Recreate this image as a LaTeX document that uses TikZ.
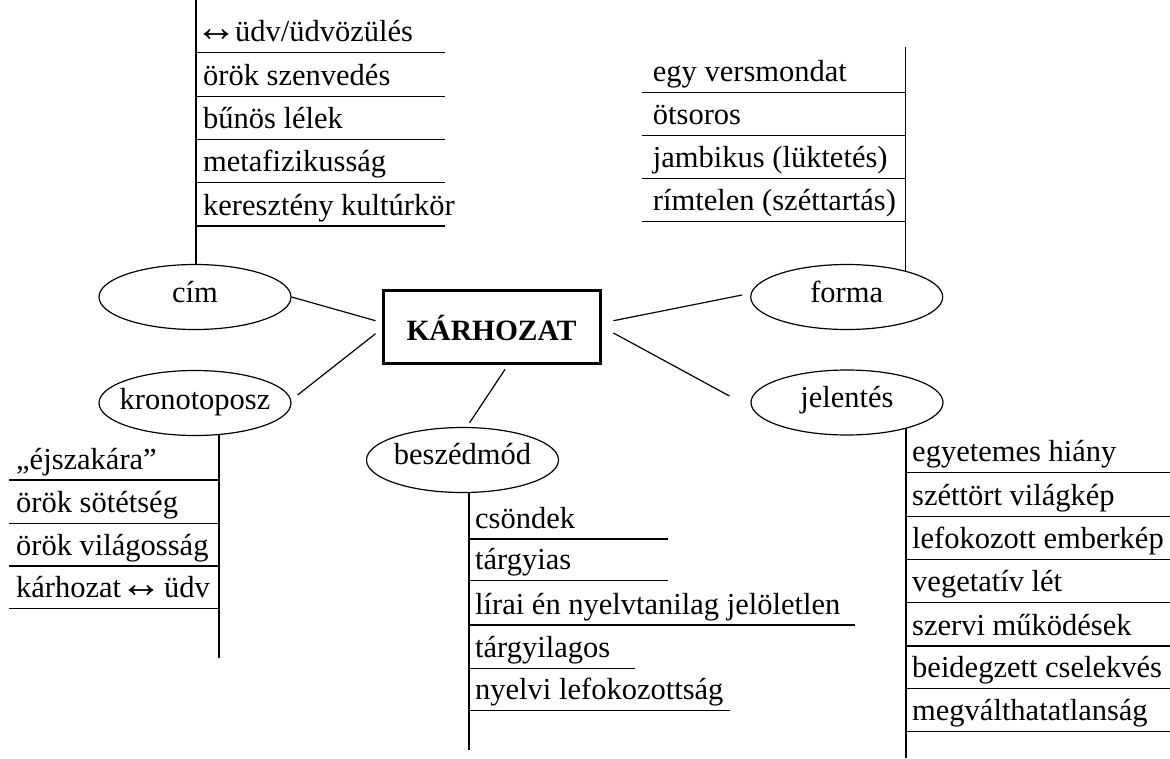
\documentclass[tikz,border=0pt]{standalone}
\usepackage{fontspec}
\setmainfont{Liberation Serif}
\usetikzlibrary{shapes.geometric,calc}
\pgfdeclarelayer{bg}
\pgfsetlayers{bg,main}
\newcommand\itemsize{\fontsize{30.5}{36}\selectfont}
% a large double arrow with its side bearings trimmed
\newcommand\arr{{\fontsize{42}{42}\selectfont\kern-10pt↔\kern-8pt}}

\begin{document}
\begin{tikzpicture}[x=1pt,y=-1pt,
  rule/.style={line width=1.2pt},
  link/.style={line width=1.2pt},
  bubble/.style={ellipse, draw, fill=white, line width=1.2pt,
    minimum width=192pt, minimum height=65pt, inner sep=0pt},
  bubbletext/.style={anchor=base, inner sep=0pt, font=\itemsize},
  mainbox/.style={draw, line width=3pt, fill=white,
    minimum width=217pt, minimum height=73.3pt, inner sep=0pt},
  titletext/.style={anchor=base, inner sep=0pt, font=\fontsize{29.5}{34}\selectfont\bfseries},
  item/.style={anchor=base west, inner sep=0pt, font=\itemsize}]
\useasboundingbox (0,0) rectangle (1170,758);

% central box
\node[mainbox] (box) at (491.5,326.7) {};
\node[titletext] (box-t) at (491.5,340) {KÁRHOZAT};

% topic bubbles
\node[bubble] (cim) at (195,297) {};
\node[bubble] (kron) at (195,403) {};
\node[bubble] (besz) at (462.5,460) {};
\node[bubble] (forma) at (846.7,297) {};
\node[bubble] (jel) at (847,402.5) {};
\node[bubbletext] (cim-t) at ($(cim.center)+(0,5)$) {cím};
\node[bubbletext] (kron-t) at ($(kron.center)+(0,6)$) {kronotoposz};
\node[bubbletext] (besz-t) at ($(besz.center)+(0,4)$) {beszédmód};
\node[bubbletext] (forma-t) at ($(forma.center)+(0,5)$) {forma};
\node[bubbletext] (jel-t) at ($(jel.center)+(0,5)$) {jelentés};

% spokes from the centre
\draw[link] (cim.east) -- ($(box.west)+(-6,-6)$);
\draw[link] ($(kron.east)+(6,-8)$) -- ($(box.west)+(-6,7)$);
\draw[link] ($(box.south)+(13.5,4.5)$) -- ($(besz.north)+(7,-4)$);
\draw[link] ($(box.east)+(12,-6)$) -- ($(forma.west)+(-8,-2)$);
\draw[link] ($(box.east)+(12,6.3)$) -- ($(jel.west)+(-21,-6.5)$);

% spines (behind the bubbles)
\coordinate (cim-end) at (196,0);
\coordinate (forma-end) at (905.7,47);
\coordinate (kron-end) at (219,658);
\coordinate (besz-end) at (469,750);
\coordinate (jel-end) at (906,758);
\begin{pgfonlayer}{bg}
  \draw[rule] (cim-end) -- (cim-end |- cim.center);
  \draw[rule] (forma-end) -- (forma-end |- forma.center);
  \draw[rule] (kron-end) -- (kron-end |- kron.center);
  \draw[rule] (besz-end) -- (besz-end |- besz.center);
  \draw[rule] (jel-end) -- (jel-end |- jel.center);
\end{pgfonlayer}

% cím list
\foreach \y/\t [count=\i] in {52.7/{\kern2pt\arr\kern6pt üdv/üdvözülés}, 96.7/örök szenvedés,
    139.3/bűnös lélek, 182.7/metafizikusság, 226/keresztény kultúrkör}{
  \node[item] (cim-\i) at (203,\y-11) {\t};
  \draw[rule] (196,\y) -- (445,\y);
}

% forma list
\foreach \y/\t [count=\i] in {92.3/egy versmondat, 135.3/ötsoros,
    178.3/jambikus (lüktetés), 221.7/rímtelen (széttartás)}{
  \node[item] (forma-\i) at (652.7,\y-11) {\t};
  \draw[rule] (641.7,\y) -- (905.7,\y);
}

% kronotoposz list
\foreach \y/\t [count=\i] in {480/„éjszakára”, 523.3/örök sötétség,
    566/örök világosság, 608.7/{kárhozat\kern9pt\arr\kern10pt üdv}}{
  \node[item] (kron-\i) at (16,\y-11) {\t};
  \draw[rule] (9,\y) -- (219,\y);
}

% beszédmód list
\foreach \y/\x/\t [count=\i] in {539/667.7/csöndek, 580.7/667.7/tárgyias,
    625/855/lírai én nyelvtanilag jelöletlen, 668.3/635/tárgyilagos,
    710.7/730/nyelvi lefokozottság}{
  \node[item] (besz-\i) at (475,\y-11) {\t};
  \draw[rule] (469,\y) -- (\x,\y);
}

% jelentés list
\foreach \y/\t [count=\i] in {472.7/egyetemes hiány, 516.7/széttört világkép,
    559.3/lefokozott emberkép, 602.7/vegetatív lét, 646/szervi működések,
    688.3/beidegzett cselekvés, 731.7/megválthatatlanság}{
  \node[item] (jel-\i) at (912,\y-11) {\t};
  \draw[rule] (906,\y) -- (1170,\y);
}
\end{tikzpicture}
\end{document}
